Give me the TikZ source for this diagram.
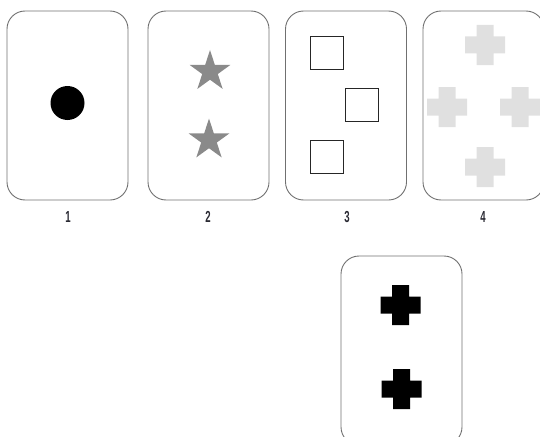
\documentclass[tikz,border=0pt]{standalone}
\usepackage{fontspec}
\newfontfamily\numfont[FakeStretch=0.6]{Liberation Sans}
\usetikzlibrary{shapes.geometric}
\definecolor{cardline}{HTML}{707070}
\definecolor{stargray}{HTML}{8A8A8A}
\definecolor{palegray}{HTML}{E0E0E0}
\definecolor{numink}{HTML}{2A2A33}
\tikzset{
  card/.style={draw=cardline, line width=0.9pt, rounded corners=18pt, minimum width=121pt, minimum height=189pt, inner sep=0pt},
  dot/.style={circle, fill=black, minimum size=34pt, inner sep=0pt},
  pip/.style={star, star points=5, star point ratio=2.618, fill=stargray, minimum size=43pt, inner sep=0pt},
  sq/.style={draw=black!85, line width=0.8pt, minimum size=33pt, inner sep=0pt},
  num/.style={font=\numfont\bfseries\fontsize{16}{16}\selectfont, text=numink},
  plus/.pic={\fill[pic actions] (-8.5,-20) rectangle (8.5,20) (-20,-8.5) rectangle (20,8.5);},
}

\begin{document}
\begin{tikzpicture}[x=1pt, y=-1pt]
    \path[use as bounding box] (0,0) rectangle (540,436);
    \clip (0,0) rectangle (540,436);
    % the four cards on top
    \node[card] (card1) at (67.5,105.5) {};
    \node[card] (card2) at (208.5,105.5) {};
    \node[card] (card3) at (346,105.5) {};
    \node[card] (card4) at (483.5,105.5) {};
    % card to sort
    \node[card] (card5) at (401.5,350.5) {};
    % pips
    \node[dot] (dot1) at (67.5,103) {};
    \node[pip] (star1) at (210,71.5) {};
    \node[pip] (star2) at (209,140) {};
    \node[sq] (sq1) at (327,52.5) {};
    \node[sq] (sq2) at (362,105) {};
    \node[sq] (sq3) at (326.5,157) {};
    \pic[fill=palegray] at (485,45) {plus};
    \pic[fill=palegray] at (447,107) {plus};
    \pic[fill=palegray] at (520,107) {plus};
    \pic[fill=palegray] at (485,167) {plus};
    \pic[fill=black] at (400.5,305) {plus};
    \pic[fill=black] at (401.5,389) {plus};
    % numbers
    \node[num] (n1) at (68,217) {1};
    \node[num] (n2) at (208,217) {2};
    \node[num] (n3) at (347,217) {3};
    \node[num] (n4) at (483,217) {4};
\end{tikzpicture}
\end{document}
